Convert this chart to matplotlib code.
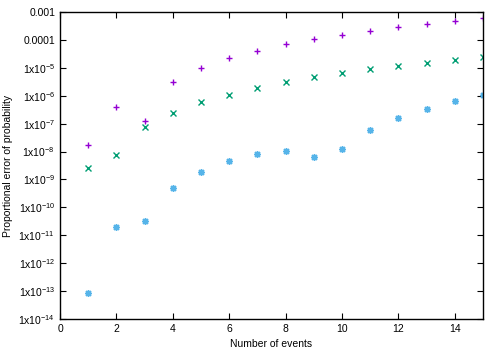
import numpy as np
import matplotlib.pyplot as plt

plt.rcParams['font.family'] = ['Liberation Sans', 'DejaVu Sans']
plt.rcParams['mathtext.fontset'] = 'custom'
plt.rcParams['mathtext.rm'] = 'Liberation Sans'

# number of events
events = list(range(1, 16))

# proportional error for the three methods
err_a = [1.7e-8, 3.9e-7, 1.2e-7, 3.1e-6, 9.8e-6, 2.2e-5, 4.1e-5, 6.9e-5,
         1.05e-4, 1.5e-4, 2.1e-4, 2.9e-4, 3.7e-4, 4.8e-4, 5.9e-4]
err_b = [2.6e-9, 7.3e-9, 7.4e-8, 2.5e-7, 5.8e-7, 1.1e-6, 1.9e-6, 3.0e-6,
         4.6e-6, 6.5e-6, 8.9e-6, 1.15e-5, 1.5e-5, 1.9e-5, 2.4e-5]
err_c = [8.5e-14, 1.96e-11, 3.2e-11, 5.0e-10, 1.9e-9, 4.6e-9, 8.1e-9, 1.02e-8,
         6.2e-9, 1.26e-8, 6.0e-8, 1.6e-7, 3.3e-7, 6.3e-7, 1.1e-6]

ytick_vals = [1e-14, 1e-13, 1e-12, 1e-11, 1e-10, 1e-9, 1e-8, 1e-7, 1e-6, 1e-5, 1e-4, 1e-3]
ytick_labels = [r'1x10$^{-14}$', r'1x10$^{-13}$', r'1x10$^{-12}$', r'1x10$^{-11}$',
                r'1x10$^{-10}$', r'1x10$^{-9}$', r'1x10$^{-8}$', r'1x10$^{-7}$',
                r'1x10$^{-6}$', r'1x10$^{-5}$', '0.0001', '0.001']

fig = plt.figure(figsize=(5, 3.5), dpi=100)
ax = fig.add_axes([0.12, 0.0886, 0.846, 0.877])

ax.plot(events, err_a, linestyle='none', marker='+', color='#9400d3', markersize=5, markeredgewidth=1)
ax.plot(events, err_b, linestyle='none', marker='x', color='#009e73', markersize=4, markeredgewidth=1)
ax.plot(events, err_c, linestyle='none', marker=(8, 2, 0), color='#56b4e9', markersize=5, markeredgewidth=1)

ax.set_yscale('log')
ax.set_xlim(0, 15)
ax.set_ylim(1e-14, 1e-3)
ax.set_xticks(range(0, 15, 2))
ax.set_yticks(ytick_vals)
ax.set_yticklabels(ytick_labels)
ax.minorticks_off()
ax.tick_params(direction='in', top=True, right=True, labelsize=7.5, length=4, width=0.8)

for s in ax.spines.values():
    s.set_linewidth(1)

ax.set_xlabel('Number of events', fontsize=7.5, labelpad=4)
ax.set_ylabel('Proportional error of probability', fontsize=7.5, labelpad=4)

fig.savefig('out.png', dpi=100)
